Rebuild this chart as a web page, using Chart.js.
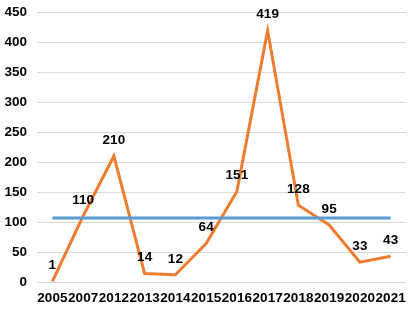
<!DOCTYPE html>
<html><head><meta charset="utf-8">
<script src="https://cdn.jsdelivr.net/npm/chart.js@4"></script>
<style>html,body{margin:0;padding:0;background:#fff}#wrap{width:411px;height:312px}</style>
</head><body><div id="wrap"><canvas id="c"></canvas></div>
<script>
const categories = ["2005","2007","2012","2013","2014","2015","2016","2017","2018","2019","2020","2021"];
const values = [1,110,210,14,12,64,151,419,128,95,33,43];
const averageValues = [106.7,106.7,106.7,106.7,106.7,106.7,106.7,106.7,106.7,106.7,106.7,106.7];
const yTicks = [0,50,100,150,200,250,300,350,400,450];

const FONT = "'Liberation Sans', Arial, sans-serif";
const labelPlugin = {
  id: 'valueLabels',
  afterDatasetsDraw(chart) {
    const ctx = chart.ctx;
    const meta = chart.getDatasetMeta(1);
    ctx.save();
    ctx.font = "bold 13.5px " + FONT;
    ctx.fillStyle = '#000';
    ctx.textAlign = 'center';
    ctx.textBaseline = 'middle';
    meta.data.forEach((pt, i) => {
      ctx.fillText(String(values[i]), pt.x, pt.y - 16);
    });
    ctx.restore();
  }
};

new Chart(document.getElementById('c'), {
  type: 'line',
  data: {
    labels: categories,
    datasets: [
      { data: averageValues, borderColor: '#5B9BD5', borderWidth: 3, pointRadius: 0, tension: 0 },
      { data: values, borderColor: '#ED7D31', borderWidth: 3, pointRadius: 0, tension: 0 }
    ]
  },
  options: {
    responsive: true, maintainAspectRatio: false, animation: false,
    layout: { padding: { top: 12, right: 5, left: 0, bottom: 0 } },
    plugins: { legend: { display: false }, tooltip: { enabled: false } },
    scales: {
      x: {
        offset: true,
        afterFit: (s) => { s.height = 30; s.paddingLeft = 0; s.paddingRight = 0; },
        grid: { display: false, drawTicks: false },
        border: { display: false },
        ticks: { autoSkip: false, maxRotation: 0, color: '#000', font: { family: FONT, size: 13.5, weight: 'bold' }, padding: 8 }
      },
      y: {
        min: 0, max: 450,
        afterBuildTicks: (s) => { s.ticks = yTicks.map(v => ({ value: v })); },
        afterFit: (s) => { s.width = 37; s.paddingTop = 0; s.paddingBottom = 0; },
        grid: { color: '#D9D9D9', lineWidth: 1, drawTicks: false },
        border: { display: false },
        ticks: { color: '#000', font: { family: FONT, size: 13.5, weight: 'bold' }, padding: 10 }
      }
    }
  },
  plugins: [labelPlugin]
});
</script></body></html>
